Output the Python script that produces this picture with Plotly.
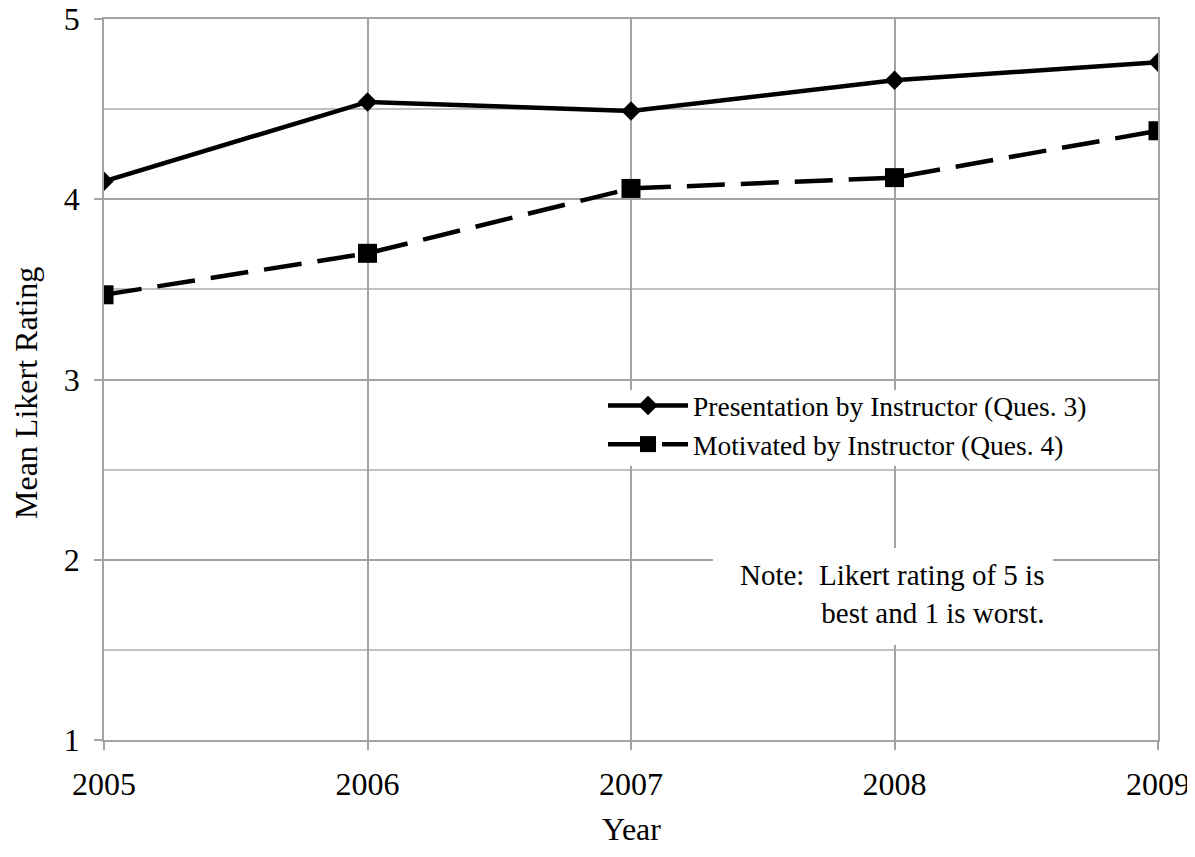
import plotly.graph_objects as go

years = [2005, 2006, 2007, 2008, 2009]
presentation = [4.10, 4.54, 4.49, 4.66, 4.76]
motivated = [3.47, 3.70, 4.06, 4.12, 4.38]
series_names = ["Presentation by Instructor (Ques. 3)", "Motivated by Instructor (Ques. 4)"]
y_ticks = [1, 2, 3, 4, 5]
note_text = "Note:  Likert rating of 5 is<br>best and 1 is worst."
x_title = "Year"
y_title = "Mean Likert Rating"

FONT = "Liberation Serif"
GRID = "#a3a3a3"

# page body has an 8px margin, so the figure is drawn offset by 8px
W, H = 1187, 841
L, T = 96, 11
R = W - (1158 - 8)
B = H - (740 - 8)
PW, PH = W - L - R, H - T - B


def px(xpix):
    return (xpix - 104) / PW


def py(ypix):
    return (740 - ypix) / PH


fig = go.Figure()
fig.add_trace(go.Scatter(
    x=years, y=presentation, name=series_names[0], mode="lines+markers",
    line=dict(color="black", width=4.5),
    marker=dict(symbol="diamond", size=15, color="black"),
))
fig.add_trace(go.Scatter(
    x=years, y=motivated, name=series_names[1], mode="lines+markers",
    line=dict(color="black", width=4.5, dash="38px,16px"),
    marker=dict(symbol="square", size=19, color="black"),
))

# white box behind the legend
fig.add_shape(type="rect", xref="paper", yref="paper",
              x0=px(595), x1=px(1092), y0=py(466), y1=py(390),
              fillcolor="white", line=dict(width=0), layer="above")
# white box behind the note
fig.add_shape(type="rect", xref="paper", yref="paper",
              x0=px(713), x1=px(1053), y0=py(645), y1=py(548),
              fillcolor="white", line=dict(width=0), layer="above")

fig.add_annotation(
    text=note_text, xref="paper", yref="paper",
    x=px(1046), y=py(594), xanchor="right", yanchor="middle",
    align="right", showarrow=False,
    font=dict(family=FONT, size=29, color="black"),
)
# axis titles
fig.add_annotation(
    text=x_title, xref="paper", yref="paper",
    x=0.5, y=py(849), xanchor="center", yanchor="bottom",
    showarrow=False, font=dict(family=FONT, size=32, color="black"),
)
fig.add_annotation(
    text=y_title, xref="paper", yref="paper",
    x=px(26), y=py(393), xanchor="center", yanchor="middle", textangle=-90,
    showarrow=False, font=dict(family=FONT, size=32, color="black"),
)

fig.update_layout(
    width=W, height=H,
    margin=dict(l=L, r=R, t=T, b=B, autoexpand=False),
    paper_bgcolor="white", plot_bgcolor="white",
    font=dict(family=FONT, color="black"),
    showlegend=True,
    legend=dict(
        x=px(603), y=py(381), xanchor="left", yanchor="top",
        bgcolor="rgba(0,0,0,0)", font=dict(family=FONT, size=27.5, color="black"),
        itemwidth=80, tracegroupgap=0,
    ),
)
fig.update_xaxes(
    range=[2005, 2009], tickvals=years, ticktext=[str(y) for y in years],
    automargin=False, ticklabeloverflow="allow",
    showgrid=True, gridcolor=GRID, gridwidth=1.8,
    showline=True, linecolor=GRID, linewidth=1.8, mirror=True,
    ticks="outside", ticklen=8, tickcolor=GRID, tickwidth=1.8,
    tickfont=dict(family=FONT, size=32, color="black"),
    ticklabelstandoff=7,
    zeroline=False,
)
fig.update_yaxes(
    range=[1, 5], tickvals=y_ticks,
    automargin=False, ticklabeloverflow="allow",
    showgrid=True, gridcolor=GRID, gridwidth=1.8,
    minor=dict(dtick=0.5, showgrid=True, gridcolor="#c0c0c0", gridwidth=1.5, ticks=""),
    showline=True, linecolor=GRID, linewidth=1.8, mirror=True,
    ticks="outside", ticklen=8, tickcolor=GRID, tickwidth=1.8,
    tickfont=dict(family=FONT, size=32, color="black"),
    ticklabelstandoff=8,
    zeroline=False,
)

fig.write_html("out.html")
